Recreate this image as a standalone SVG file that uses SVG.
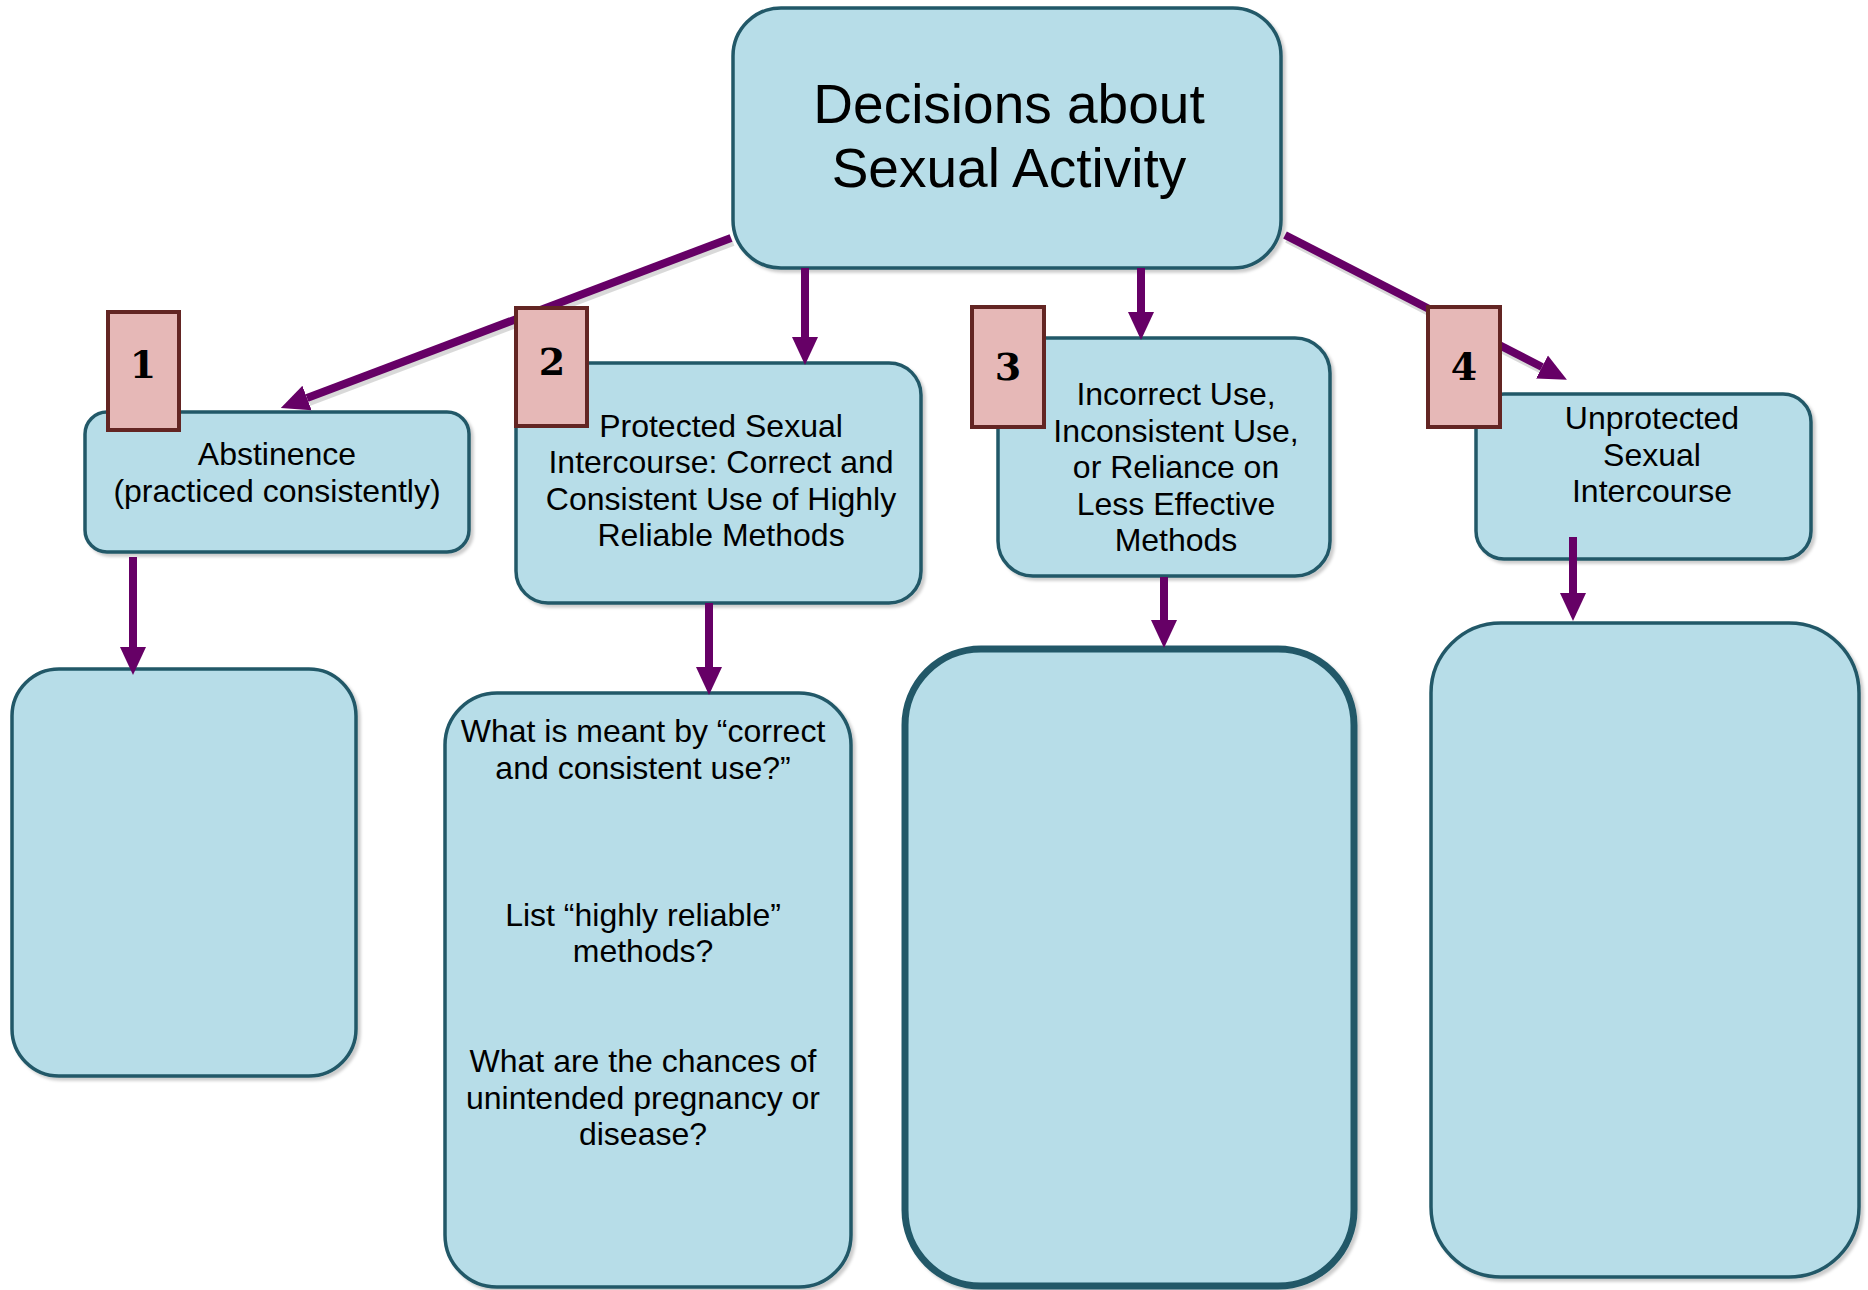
<svg xmlns="http://www.w3.org/2000/svg" width="1868" height="1290" viewBox="0 0 1868 1290">
<style>
.box{fill:#b7dde8;stroke:#215968;stroke-width:3.5;filter:url(#sh)}
.badge{fill:#e6b8b7;stroke:#632523;stroke-width:4}
.t{font-family:"Liberation Sans",Arial,sans-serif;font-size:32px;fill:#000;text-anchor:middle}
.title{font-family:"Liberation Sans",Arial,sans-serif;font-size:55px;fill:#000;text-anchor:middle}
.num{font-family:"DejaVu Serif","Liberation Serif",serif;font-weight:bold;font-size:38px;fill:#000;text-anchor:middle}
.c{stroke:#660066;stroke-width:8;fill:none;marker-end:url(#ah)}
.cs{stroke:#000;stroke-opacity:0.15;stroke-width:8;fill:none}
</style>
<defs>
<filter id="sh" x="-10%" y="-10%" width="130%" height="130%">
<feDropShadow dx="3" dy="3" stdDeviation="1.5" flood-color="#000" flood-opacity="0.2"/>
</filter>
<marker id="ah" markerUnits="userSpaceOnUse" markerWidth="28" markerHeight="28" refX="0" refY="13" orient="auto" viewBox="0 0 28 26">
<path d="M0,0 L28,13 L0,26 z" fill="#660066"/>
</marker>
</defs>
<rect width="1868" height="1290" fill="#fff"/>

<g id="main">
<rect class="box" x="733" y="8" width="548" height="260" rx="48"/>
<text class="title" x="1009" y="123">Decisions about</text>
<text class="title" x="1009" y="187">Sexual Activity</text>
</g>

<g id="abstinence">
<rect class="box" x="85" y="412" width="384" height="140" rx="22"/>
<text class="t" x="277" y="465">Abstinence</text>
<text class="t" x="277" y="502">(practiced consistently)</text>
</g>

<g id="protected">
<rect class="box" x="516" y="363" width="405" height="240" rx="32"/>
<text class="t" x="721" y="437">Protected Sexual</text>
<text class="t" x="721" y="473">Intercourse: Correct and</text>
<text class="t" x="721" y="510">Consistent Use of Highly</text>
<text class="t" x="721" y="546">Reliable Methods</text>
</g>

<g id="incorrect">
<rect class="box" x="998" y="338" width="332" height="238" rx="35"/>
<text class="t" x="1176" y="405">Incorrect Use,</text>
<text class="t" x="1176" y="442">Inconsistent Use,</text>
<text class="t" x="1176" y="478">or Reliance on</text>
<text class="t" x="1176" y="515">Less Effective</text>
<text class="t" x="1176" y="551">Methods</text>
</g>

<g id="unprotected">
<rect class="box" x="1476" y="394" width="335" height="165" rx="28"/>
<text class="t" x="1652" y="429">Unprotected</text>
<text class="t" x="1652" y="466">Sexual</text>
<text class="t" x="1652" y="502">Intercourse</text>
</g>

<g id="abstinence-detail">
<rect class="box" x="12" y="669" width="344" height="407" rx="47"/>
</g>

<g id="protected-detail">
<rect class="box" x="445" y="693" width="406" height="594" rx="52"/>
<text class="t" x="643" y="742">What is meant by “correct</text>
<text class="t" x="643" y="779">and consistent use?”</text>
<text class="t" x="643" y="926">List “highly reliable”</text>
<text class="t" x="643" y="962">methods?</text>
<text class="t" x="643" y="1072">What are the chances of</text>
<text class="t" x="643" y="1109">unintended pregnancy or</text>
<text class="t" x="643" y="1145">disease?</text>
</g>

<g id="incorrect-detail">
<rect class="box" x="905" y="649" width="449" height="637" rx="76" style="stroke-width:7"/>
</g>

<g id="unprotected-detail">
<rect class="box" x="1431" y="623" width="428" height="654" rx="70"/>
</g>

<g id="connectors">
<line class="cs" x1="733" y1="242" x2="309" y2="402"/>
<line class="cs" x1="1287" y1="239" x2="1544" y2="371"/>
<line class="c" x1="731" y1="238" x2="307" y2="398"/>
<line class="c" x1="805" y1="268" x2="805" y2="337"/>
<line class="c" x1="1141" y1="268" x2="1141" y2="312"/>
<line class="c" x1="1285" y1="235" x2="1542" y2="367"/>
<line class="c" x1="133" y1="557" x2="133" y2="647"/>
<line class="c" x1="709" y1="603" x2="709" y2="667"/>
<line class="c" x1="1164" y1="577" x2="1164" y2="620"/>
<line class="c" x1="1573" y1="537" x2="1573" y2="593"/>
</g>

<g id="badge1">
<rect class="badge" x="108" y="312" width="71" height="118"/>
<text class="num" x="143" y="378">1</text>
</g>
<g id="badge2">
<rect class="badge" x="516" y="308" width="71" height="118"/>
<text class="num" x="552" y="375">2</text>
</g>
<g id="badge3">
<rect class="badge" x="972" y="307" width="72" height="120"/>
<text class="num" x="1008" y="380">3</text>
</g>
<g id="badge4">
<rect class="badge" x="1428" y="307" width="72" height="120"/>
<text class="num" x="1464" y="380">4</text>
</g>
</svg>
